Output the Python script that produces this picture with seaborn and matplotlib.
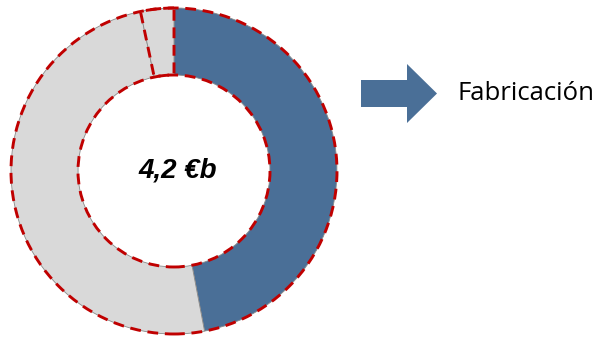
import matplotlib.pyplot as plt
from matplotlib.patches import Circle, FancyArrow, Wedge
import seaborn as sns

# Datos del gráfico
segmentos = ["Fabricación", "Resto", "Otros"]
valores = [47.0, 49.7, 3.3]
total_txt = "4,2 €b"
etiqueta = "Fabricación"

azul = "#4A6F97"
gris = "#D9D9D9"
rojo = "#C00000"

sns.set_theme(style="white")
plt.rcParams['font.family'] = ['Open Sans', 'DejaVu Sans']

fig = plt.figure(figsize=(5.98, 3.38), dpi=100)
ax = fig.add_axes([0, 0, 1, 1])

centro = (174, 167)
r_ext = 163
r_int = 96
guiones = (0, (3.7, 2.3))

wedges, _ = ax.pie(valores, colors=[azul, gris, gris], startangle=90, counterclock=False,
                   center=centro, radius=r_ext, frame=True,
                   wedgeprops=dict(width=r_ext - r_int, linewidth=0.6, edgecolor="#8a8a8a"))
ax.set_xlim(0, 598)
ax.set_ylim(0, 338)
ax.set_aspect('equal')
ax.axis('off')

# segmento pequeño resaltado con borde discontinuo
w = wedges[2]
ax.add_patch(Wedge(centro, r_ext, w.theta1, w.theta2, width=r_ext - r_int,
                   fill=False, edgecolor=rojo, lw=2.1, linestyle=guiones))

# contornos discontinuos exterior e interior
for r in (r_ext, r_int):
    ax.add_patch(Circle(centro, r, fill=False, edgecolor=rojo, lw=2.1, linestyle=guiones))

ax.text(centro[0] + 4, centro[1], total_txt, ha='center', va='center',
        fontsize=20, fontweight='bold', fontstyle='italic',
        family=['Liberation Sans', 'DejaVu Sans'], color='black')

# flecha y etiqueta
ax.add_patch(FancyArrow(361, 338 - 93.5, 76, 0, width=27, head_width=59, head_length=30,
                        length_includes_head=True, color=azul, lw=0))
ax.text(458, 338 - 93.5, etiqueta, ha='left', va='center', fontsize=18.5, color='black')

fig.savefig("out.png", dpi=100)
